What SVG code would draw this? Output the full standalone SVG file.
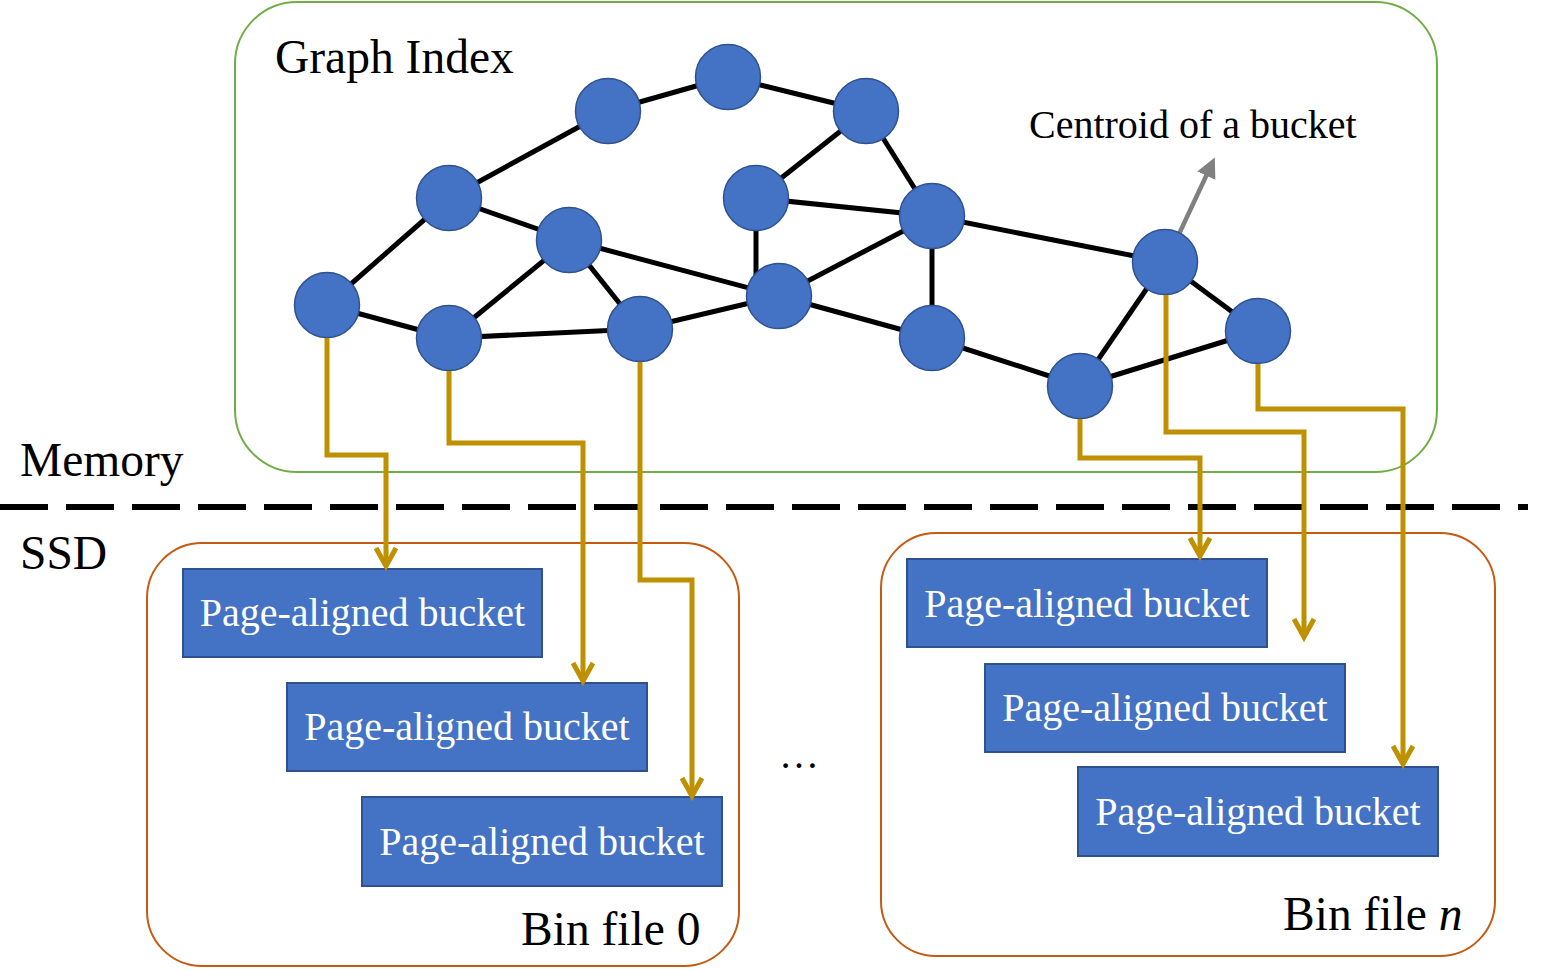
<svg xmlns="http://www.w3.org/2000/svg" width="1544" height="970" viewBox="0 0 1544 970">
<defs>
<style>
.node{fill:#4472C4;stroke:#2F528F;stroke-width:1.5}
.edge{stroke:#000;stroke-width:5;fill:none}
.link{stroke:#BF9000;stroke-width:5;fill:none;marker-end:url(#chev)}
.bucket{fill:#4472C4;stroke:#2F528F;stroke-width:2}
.serif{font-family:"Liberation Serif","Times New Roman","DejaVu Serif",serif}
.btxt{font-size:40px;fill:#fff;text-anchor:middle}
.lbl{font-size:47.5px;fill:#000}
.bin{fill:none;stroke:#C55A11;stroke-width:2}
</style>
<marker id="chev" markerUnits="userSpaceOnUse" markerWidth="30" markerHeight="30" refX="20" refY="12" orient="auto" viewBox="0 0 30 24">
<path d="M2,2 L20,12 L2,22" fill="none" stroke="#BF9000" stroke-width="5" stroke-linejoin="miter"/>
</marker>
<marker id="tri" markerUnits="userSpaceOnUse" markerWidth="24" markerHeight="24" refX="4" refY="10" orient="auto" viewBox="0 0 24 20">
<path d="M0,0 L20,10 L0,20 Z" fill="#808080"/>
</marker>
</defs>
<rect width="1544" height="970" fill="#fff"/>

<g id="graph-index">
<rect x="235" y="2" width="1202" height="470" rx="62" ry="62" fill="none" stroke="#70AD47" stroke-width="2"/>
<text class="lbl serif" x="275" y="73">Graph Index</text>
</g>

<g id="divider">
<line x1="0" y1="507" x2="1528" y2="507" stroke="#000" stroke-width="6" stroke-dasharray="48 18"/>
<text class="lbl serif" x="20" y="476">Memory</text>
<text class="lbl serif" x="20" y="569">SSD</text>
</g>

<g id="bin0">
<rect class="bin" x="147" y="543" width="592" height="423" rx="55" ry="55"/>
<text class="lbl serif" x="521" y="945">Bin file 0</text>
</g>
<g id="binn">
<rect class="bin" x="881" y="533" width="614" height="423" rx="55" ry="55"/>
<text class="lbl serif" x="1283" y="930">Bin file <tspan font-style="italic">n</tspan></text>
</g>

<g id="edges">
<line class="edge" x1="327" y1="305" x2="449" y2="198"/>
<line class="edge" x1="327" y1="305" x2="449" y2="338"/>
<line class="edge" x1="449" y1="198" x2="608" y2="111"/>
<line class="edge" x1="608" y1="111" x2="728" y2="77"/>
<line class="edge" x1="728" y1="77" x2="866" y2="111"/>
<line class="edge" x1="449" y1="198" x2="569" y2="240"/>
<line class="edge" x1="569" y1="240" x2="449" y2="338"/>
<line class="edge" x1="569" y1="240" x2="640" y2="329"/>
<line class="edge" x1="569" y1="240" x2="779" y2="296"/>
<line class="edge" x1="449" y1="338" x2="640" y2="329"/>
<line class="edge" x1="640" y1="329" x2="779" y2="296"/>
<line class="edge" x1="866" y1="111" x2="756" y2="198"/>
<line class="edge" x1="866" y1="111" x2="932" y2="216"/>
<line class="edge" x1="756" y1="198" x2="932" y2="216"/>
<line class="edge" x1="756" y1="198" x2="756" y2="280"/>
<line class="edge" x1="779" y1="296" x2="932" y2="216"/>
<line class="edge" x1="932" y1="216" x2="932" y2="338"/>
<line class="edge" x1="779" y1="296" x2="932" y2="338"/>
<line class="edge" x1="932" y1="216" x2="1165" y2="262"/>
<line class="edge" x1="932" y1="338" x2="1080" y2="386"/>
<line class="edge" x1="1080" y1="386" x2="1165" y2="262"/>
<line class="edge" x1="1080" y1="386" x2="1258" y2="331"/>
<line class="edge" x1="1165" y1="262" x2="1258" y2="331"/>
</g>

<g id="centroid-pointer">
<line x1="1179" y1="234" x2="1208" y2="172" stroke="#808080" stroke-width="4.5" marker-end="url(#tri)"/>
<text class="serif" x="1029" y="138" font-size="40" fill="#000">Centroid of a bucket</text>
</g>

<g id="nodes">
<circle id="n-a" class="node" cx="327" cy="305" r="32.5"/>
<circle id="n-b" class="node" cx="449" cy="198" r="32.5"/>
<circle id="n-c" class="node" cx="608" cy="111" r="32.5"/>
<circle id="n-d" class="node" cx="728" cy="77" r="32.5"/>
<circle id="n-e" class="node" cx="866" cy="111" r="32.5"/>
<circle id="n-f" class="node" cx="569" cy="240" r="32.5"/>
<circle id="n-g" class="node" cx="449" cy="338" r="32.5"/>
<circle id="n-h" class="node" cx="640" cy="329" r="32.5"/>
<circle id="n-i" class="node" cx="756" cy="198" r="32.5"/>
<circle id="n-j" class="node" cx="779" cy="296" r="32.5"/>
<circle id="n-k" class="node" cx="932" cy="216" r="32.5"/>
<circle id="n-l" class="node" cx="932" cy="338" r="32.5"/>
<circle id="n-m" class="node" cx="1080" cy="386" r="32.5"/>
<circle id="n-n" class="node" cx="1165" cy="262" r="32.5"/>
<circle id="n-o" class="node" cx="1258" cy="331" r="32.5"/>
</g>

<g id="buckets">
<g id="bk-l1"><rect class="bucket" x="183" y="569" width="359" height="88"/><text class="btxt serif" x="362.5" y="626">Page-aligned bucket</text></g>
<g id="bk-l2"><rect class="bucket" x="287" y="683" width="360" height="88"/><text class="btxt serif" x="467" y="740">Page-aligned bucket</text></g>
<g id="bk-l3"><rect class="bucket" x="362" y="797" width="360" height="89"/><text class="btxt serif" x="542" y="855">Page-aligned bucket</text></g>
<g id="bk-r1"><rect class="bucket" x="907" y="559" width="360" height="88"/><text class="btxt serif" x="1087" y="617">Page-aligned bucket</text></g>
<g id="bk-r2"><rect class="bucket" x="985" y="664" width="360" height="88"/><text class="btxt serif" x="1165" y="721">Page-aligned bucket</text></g>
<g id="bk-r3"><rect class="bucket" x="1078" y="767" width="360" height="89"/><text class="btxt serif" x="1258" y="825">Page-aligned bucket</text></g>
</g>

<g id="connectors">
<path class="link" d="M327,338 V455 H386 V566"/>
<path class="link" d="M449,371 V443 H583 V681"/>
<path class="link" d="M640,362 V580 H692 V796"/>
<path class="link" d="M1080,419 V458 H1200 V556"/>
<path class="link" d="M1166,295 V432 H1304 V637"/>
<path class="link" d="M1258,364 V409 H1403 V764"/>
</g>

<text class="serif" x="799" y="768" font-size="40" fill="#000" text-anchor="middle">…</text>
</svg>
